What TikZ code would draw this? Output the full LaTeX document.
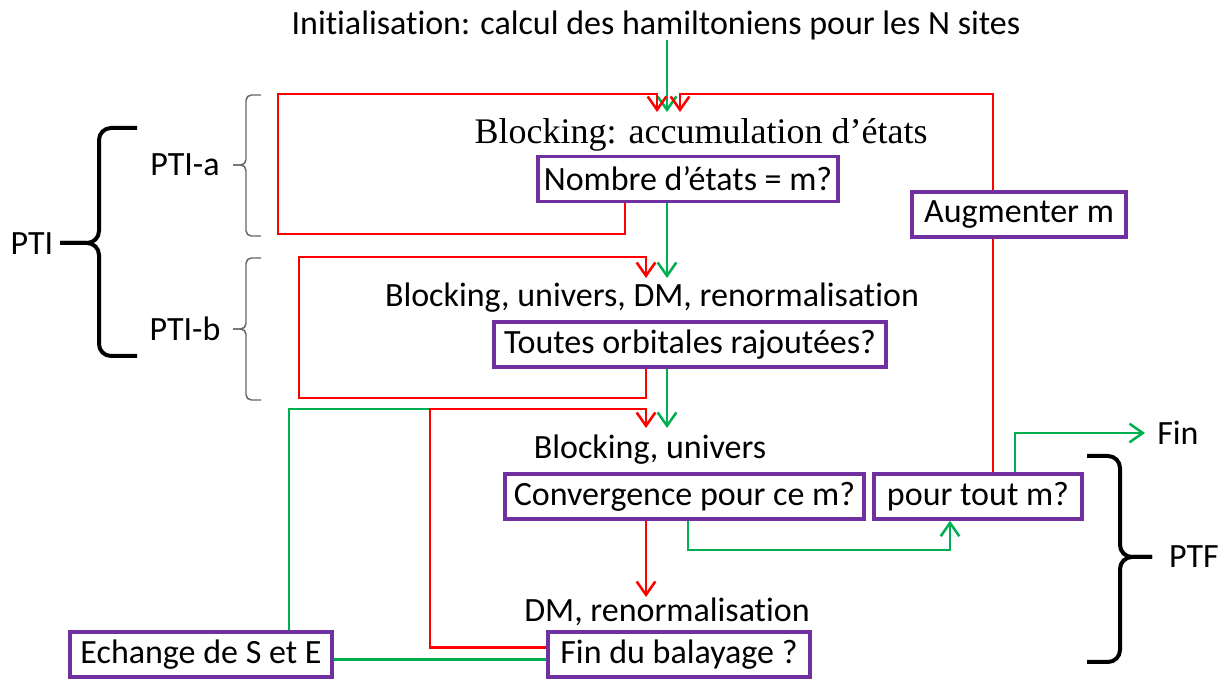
\documentclass[tikz,border=0pt]{standalone}
\usepackage{fontspec}
\setmainfont{Carlito}[Ligatures=NoCommon]
\newfontfamily\blkserif{Liberation Serif}
\usepackage{xcolor}
\usetikzlibrary{arrows.meta,calc}

\definecolor{lineRed}{HTML}{FF0000}
\definecolor{lineGreen}{HTML}{00B050}
\definecolor{boxPurple}{HTML}{7030A0}

\begin{document}
\begin{tikzpicture}[
    x=0.75pt, y=-0.75pt,
    every node/.style={font=\fontsize{25.5}{30}\selectfont, inner sep=0pt},
    box/.style={draw=boxPurple, line width=2.6pt, minimum height=33.75pt},
    rline/.style={draw=lineRed, line width=1.9pt},
    gline/.style={draw=lineGreen, line width=1.9pt},
    rarrow/.style={rline, -{Straight Barb[length=10pt, width=14pt]}},
    garrow/.style={gline, -{Straight Barb[length=10pt, width=14pt]}},
    bigbrace/.style={draw=black, line width=3pt, rounded corners=9pt},
    smallbrace/.style={draw=black!60, line width=1.1pt, rounded corners=4pt}
  ]
  \useasboundingbox (0,0) rectangle (1229,680);

  % texts and boxes
  \node (init)   at (656,25)  {Initialisation: calcul des hamiltoniens pour les N sites};
  \node (block1) at (701,135) {\blkserif\fontsize{27}{30}\selectfont Blocking: accumulation d’états};
  \node[box, minimum width=225pt] (nombre) at (688,179) {Nombre d’états = m?};
  \node[box, minimum width=160.5pt] (augm) at (1019,214.5) {Augmenter m};
  \node (block2) at (652,298) {Blocking, univers, DM, renormalisation};
  \node[box, minimum width=294pt] (toutes) at (690,344.5) {Toutes orbitales rajoutées?};
  \node (block3) at (650,450) {Blocking, univers};
  \node[box, minimum width=269pt] (conv) at (684.5,496.5) {Convergence pour ce m?};
  \node[box, minimum width=156pt] (tout) at (978,496.5) {pour tout m?};
  \node[anchor=west] (finlbl) at (1157,433) {Fin};
  \node (dm) at (667,612) {DM, renormalisation};
  \node[box, minimum width=196.5pt] (fin) at (679,654.5) {Fin du balayage ?};
  \node[box, minimum width=196.5pt] (echange) at (201,654.5) {Echange de S et E};

  \node (ptia) at (185,165) {PTI-a};
  \node (ptib) at (185,329) {PTI-b};
  \node (pti)  at (32,244)  {PTI};
  \node (ptf)  at (1194,557) {PTF};

  % bends and arrow ends
  \coordinate (g1) at (667,112);
  \coordinate (g2) at (667,278);
  \coordinate (g3) at (667,428);
  \coordinate (raB) at (625,234);
  \coordinate (raL) at (278,94);
  \coordinate (raT) at (657,112);
  \coordinate (rbB) at (646,398);
  \coordinate (rbL) at (299,257);
  \coordinate (rbT) at (646,278);
  \coordinate (rcL) at (430,409);
  \coordinate (rcT) at (646,428);
  \coordinate (rdT) at (646,597);
  \coordinate (geT) at (289,409);
  \coordinate (gcB) at (688,550);
  \coordinate (gcT) at (950,519);
  \coordinate (ruT) at (993,94);
  \coordinate (rtT) at (680,112);
  \coordinate (gfB) at (1015,433);

  % green path
  \draw[garrow] (init.south -| g1) -- (g1);
  \draw[garrow] (nombre.south -| g1) -- (g2);
  \draw[garrow] (toutes.south -| g1) -- (g3);
  \draw[garrow] (conv.south -| gcB) -- (gcB) -| (tout.south -| gcT);
  \draw[garrow] (tout.north -| gfB) -- (gfB) -- ([xshift=-9pt]finlbl.west);
  \draw[gline] (echange.north -| geT) -- (geT) -- (rcL);
  \draw[gline] ($(echange.east)+(0,5)$) -- ($(fin.west)+(0,5)$);

  % red loops
  \draw[rarrow] (nombre.south -| raB) -- (raB) -| (raL) -| (raT);
  \draw[rarrow] (toutes.south -| rbB) -- (rbB) -| (rbL) -| (rbT);
  \draw[rarrow] ($(fin.west)+(0,-7)$) -| (rcL) -| (rcT);
  \draw[rarrow] (conv.south -| rdT) -- (rdT);
  \draw[rline] (tout.north -| ruT) -- (augm.south -| ruT);
  \draw[rarrow] (augm.north -| ruT) -- (ruT) -| (rtT);

  % braces
  \draw[smallbrace] (261,95) -| (246,165) -- (233,165);
  \draw[smallbrace] (261,236) -| (246,165) -- (233,165);
  \draw[smallbrace] (261,258) -| (246,329) -- (233,329);
  \draw[smallbrace] (261,400) -| (246,329) -- (233,329);
  \draw[bigbrace] (137,128) -| (99,243) -- (60,243);
  \draw[bigbrace] (137,356) -| (99,243) -- (60,243);
  \draw[bigbrace] (1087,456) -| (1120,557) -- (1152,557);
  \draw[bigbrace] (1087,662) -| (1120,557) -- (1152,557);
\end{tikzpicture}
\end{document}
